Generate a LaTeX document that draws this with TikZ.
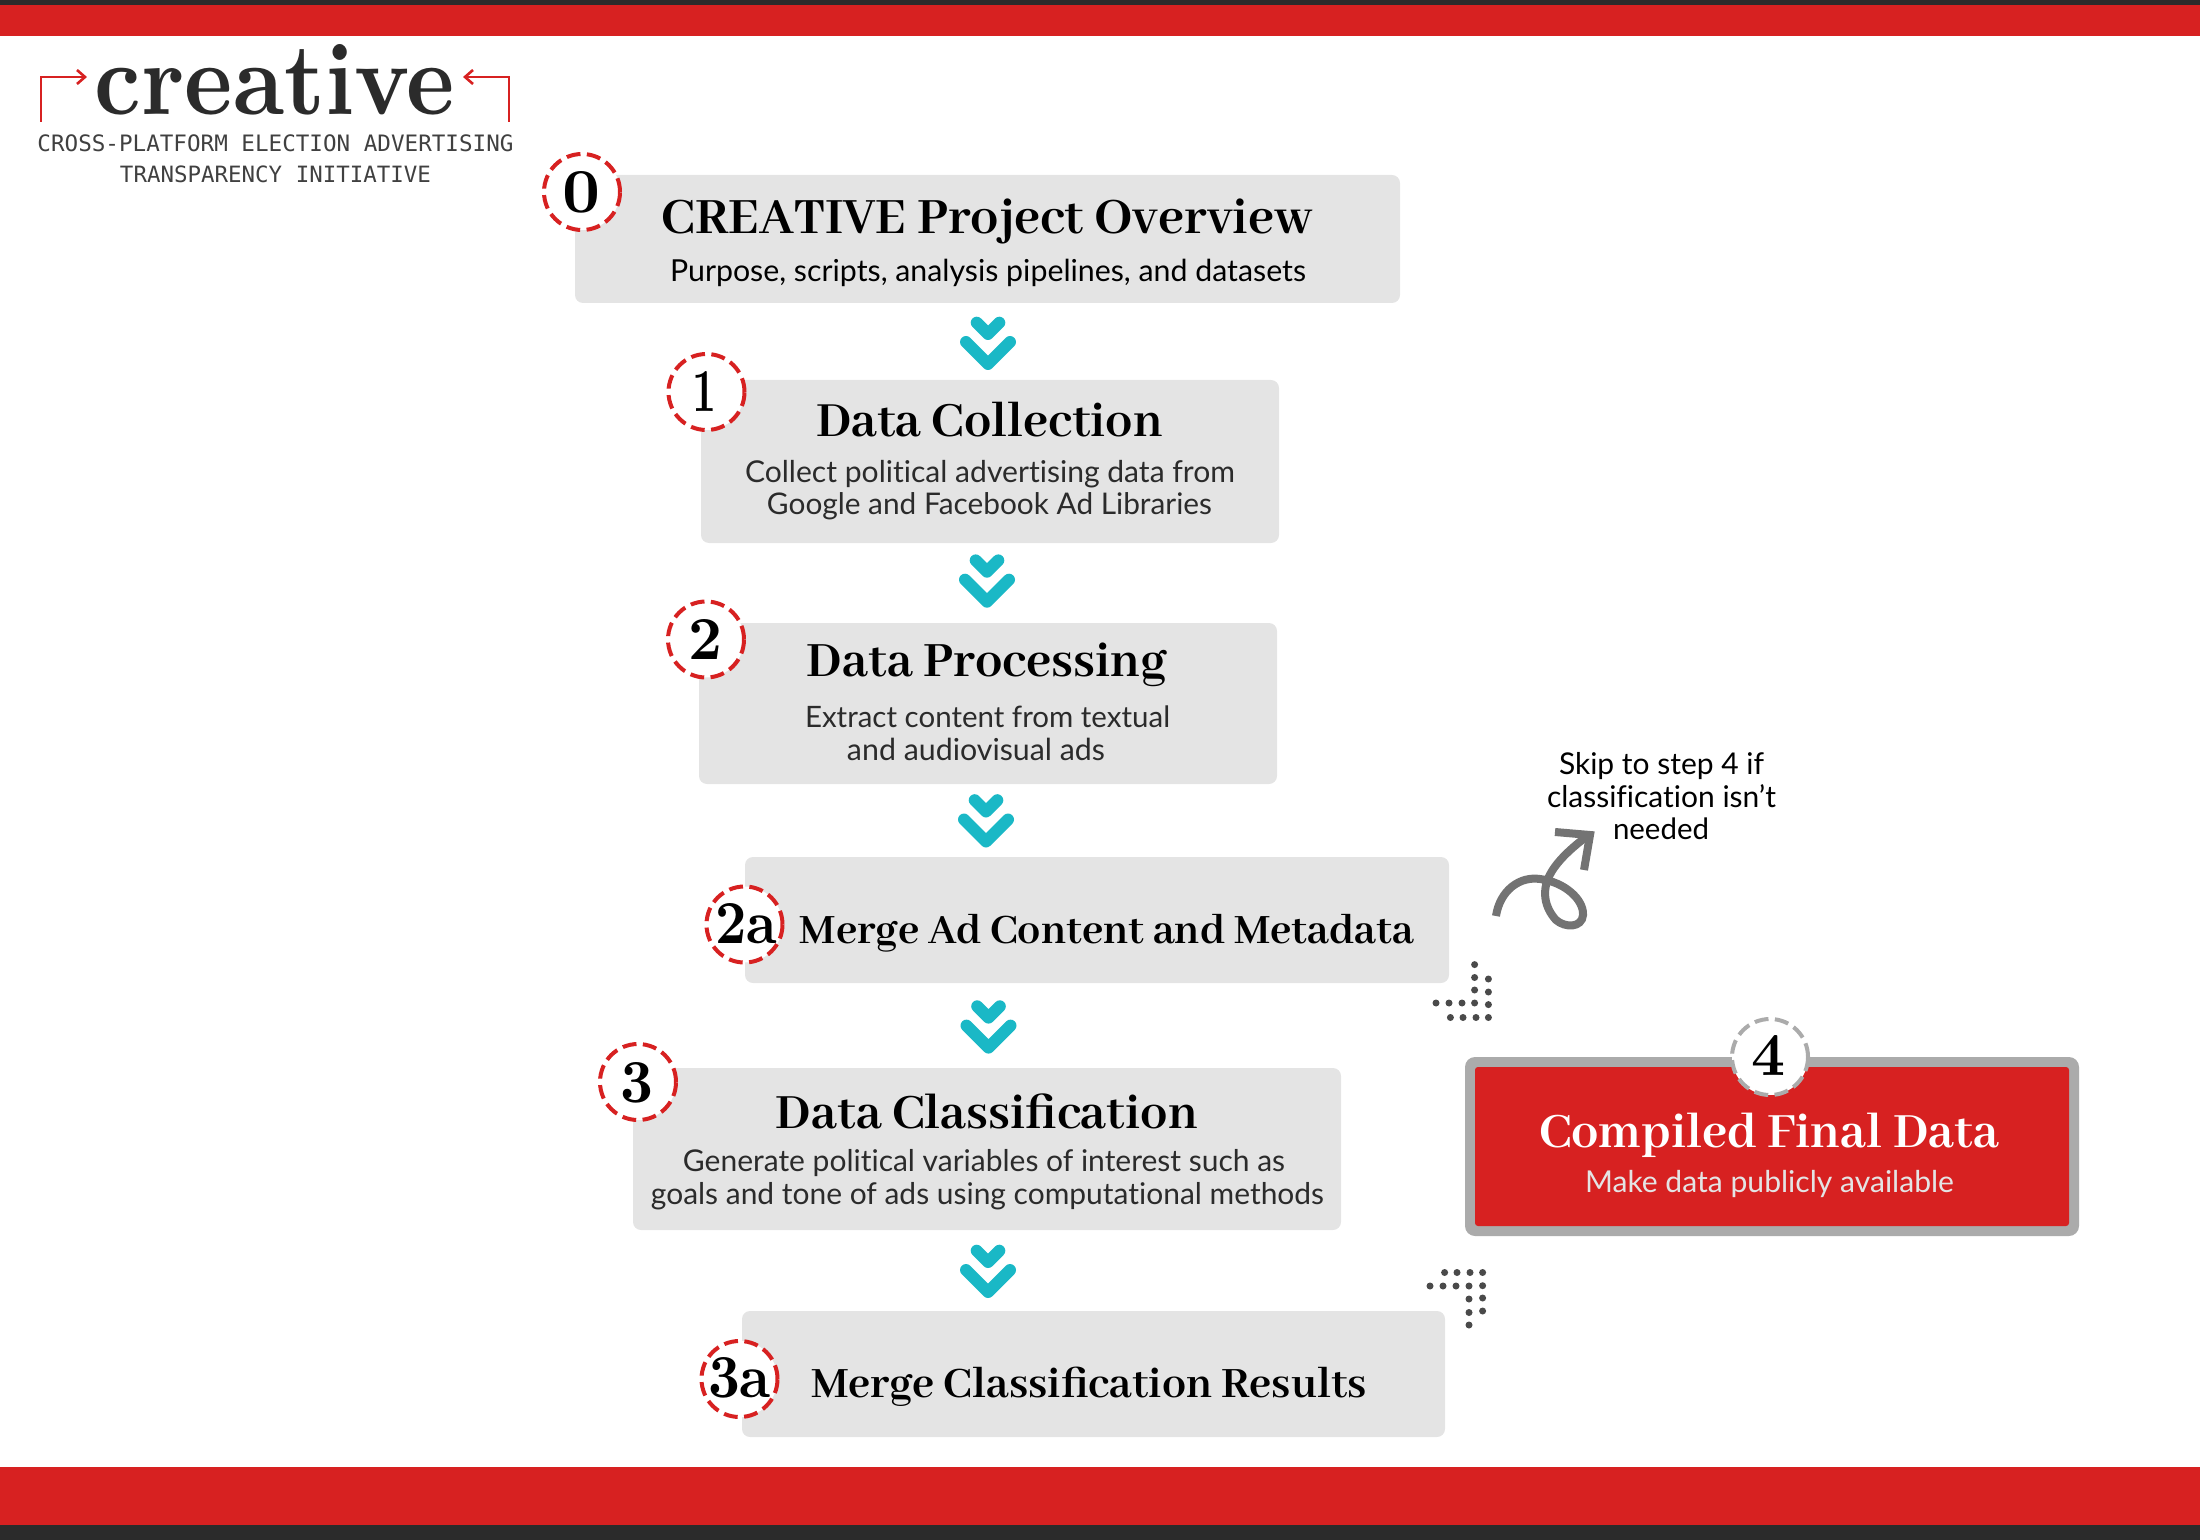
\documentclass[tikz,border=0pt]{standalone}
\usepackage{fontspec}
\usepackage{graphicx}
\usetikzlibrary{calc}
\setmainfont{Lato}[Ligatures=NoCommon]
\newfontfamily\hd{Abhaya Libre}[UprightFont=* Bold,BoldFont=* ExtraBold]
\newfontfamily\logofont{Latin Modern Roman}
\newfontfamily\mono{DejaVu Sans Mono}
\definecolor{crred}{HTML}{D72121}
\definecolor{crdark}{HTML}{2B2B2B}
\definecolor{crbox}{HTML}{E4E4E4}
\definecolor{crcyan}{HTML}{1AB8C6}
\definecolor{crgrey}{HTML}{ABABAB}
\definecolor{crsq}{HTML}{737373}
\definecolor{crdot}{HTML}{4A4A4A}
\definecolor{crmono}{HTML}{404040}
\tikzset{
  x=0.5pt,y=-0.5pt,
  boxn/.style={fill=crbox,rounded corners=4pt,inner sep=0pt,draw=none},
  numc/.style={circle,fill=white,draw=crred,line width=2pt,dash pattern=on 7pt off 3.2pt,minimum size=38pt,inner sep=0pt},
  chev/.style={draw=crcyan,line width=6pt,line cap=round,line join=round},
  tn/.style={anchor=base,inner sep=0pt,outer sep=0pt},
  logoarrow/.style={draw=crred,line width=1.3pt},
}
% name, cx, baseline, width px, font, colour, text
\newcommand\tx[7]{\node[tn,text=#6] (#1) at (#2,#3) {\resizebox{\dimexpr #4pt*1/2\relax}{!}{#5#7}};}
% name, cx, baseline, width px, height px, text: step numbers, Latin Modern bold
\newcommand\dn[6]{\node[tn,text=black] (#1) at (#2,#3) {\resizebox{\dimexpr #4pt*1/2\relax}{\dimexpr #5pt*1/2\relax}{\logofont\bfseries #6}};}
% name, cx, tip y
\newcommand\chevron[3]{%
  \coordinate (#1) at (#2,#3);
  \draw[chev] ($(#1)+(-22,-22)$) -- (#1) -- ($(#1)+(22,-22)$);
  \draw[chev] ($(#1)+(-11.3,-41.3)$) -- ($(#1)+(0,-30)$) -- ($(#1)+(11.3,-41.3)$);
}
\newcommand\dotset[1]{\foreach \a/\b in {#1} \fill[crdot] (\a,\b) circle (1.75pt);}
\begin{document}
\begin{tikzpicture}
\useasboundingbox (0,0) rectangle (2200,1540);
% bands
\fill[crred] (0,0) rectangle (2200,36);
\fill[crdark] (0,0) rectangle (2200,5);
\fill[crred] (0,1467) rectangle (2200,1525);
\fill[crdark] (0,1525) rectangle (2200,1540);
% logo
\node[tn,text=crdark] (logo) at (275,115) {\resizebox{180pt}{35pt}{\logofont\bfseries creative}};
\draw[logoarrow] (41,122) -- (41,77) -- (85,77);
\draw[logoarrow] (77,70) -- (85,77) -- (77,84);
\draw[logoarrow] (509,122) -- (509,77) -- (465,77);
\draw[logoarrow] (473,70) -- (465,77) -- (473,84);
\tx{logoa}{275.5}{151.5}{476}{\mono}{crmono}{CROSS-PLATFORM ELECTION ADVERTISING}
\tx{logob}{275.5}{182.5}{311}{\mono}{crmono}{TRANSPARENCY INITIATIVE}
% boxes
\node[boxn,minimum width=412.5pt,minimum height=64pt] (b0) at (987.5,239) {};
\node[boxn,minimum width=289pt,minimum height=81.5pt] (b1) at (990,461.5) {};
\node[boxn,minimum width=289pt,minimum height=80.5pt] (b2) at (988,703.5) {};
\node[boxn,minimum width=352pt,minimum height=63pt] (b2a) at (1097,920) {};
\node[boxn,minimum width=354pt,minimum height=81pt] (b3) at (987,1149) {};
\node[boxn,minimum width=351.5pt,minimum height=63pt] (b3a) at (1093.5,1374) {};
% step 4 box
\node[draw=none,fill=crgrey,rounded corners=5pt,minimum width=307pt,minimum height=89.5pt,inner sep=0pt] (b4o) at (1772,1146.5) {};
\node[draw=none,fill=crred,rounded corners=1.5pt,minimum width=297pt,minimum height=79.5pt,inner sep=0pt] (b4) at (1772,1146.5) {};
% titles and texts
\tx{t0}{987.5}{234}{651}{\hd}{black}{CREATIVE Project Overview}
\tx{s0}{988}{282}{636}{}{black}{Purpose, scripts, analysis pipelines, and datasets}
\tx{t1}{989.5}{437}{347}{\hd}{black}{Data Collection}
\tx{s1a}{990}{482}{490}{}{crdark}{Collect political advertising data from}
\tx{s1b}{989.5}{514}{445}{}{crdark}{Google and Facebook Ad Libraries}
\tx{t2}{987}{676}{360}{\hd}{black}{Data Processing}
\tx{s2a}{987.5}{727}{365}{}{crdark}{Extract content from textual}
\tx{s2b}{976}{760}{258}{}{crdark}{and audiovisual ads}
\tx{t2a}{1107}{943}{614}{\hd}{black}{Merge Ad Content and Metadata}
\tx{t3}{987}{1128}{422}{\hd}{black}{Data Classification}
\tx{s3a}{984}{1171}{602}{}{crdark}{Generate political variables of interest such as}
\tx{s3b}{987.5}{1204}{673}{}{crdark}{goals and tone of ads using computational methods}
\tx{t3a}{1089}{1397}{556}{\hd}{black}{Merge Classification Results}
\tx{t4}{1769}{1147}{460}{\hd}{white}{Compiled Final Data}
\tx{s4}{1769.5}{1192}{369}{}{crbox}{Make data publicly available}
\tx{n1}{1661.5}{774}{205}{}{black}{Skip to step 4 if}
\tx{n2}{1661.5}{807}{229}{}{black}{classification isn’t}
\tx{n3}{1661}{839}{96}{}{black}{needed}
% circles
\node[numc] (c0) at (582,192) {};
\node[numc] (c1) at (706.5,392) {};
\node[numc] (c2) at (706,639.5) {};
\node[numc] (c2a) at (744.5,924.5) {};
\node[numc] (c3) at (638,1082) {};
\node[numc] (c3a) at (739.5,1379) {};
\node[numc,draw=crgrey] (c4) at (1770,1057) {};
\dn{d0}{581}{213}{38}{41}{0}
\dn{d1}{704.5}{412}{24}{40}{1}
\dn{d2}{705}{659.5}{34}{40}{2}
\dn{d2a}{746}{943}{62}{40}{2a}
\dn{d3}{637}{1102}{33}{40}{3}
\dn{d3a}{739.5}{1397}{63}{40}{3a}
\dn{d4}{1768}{1075}{34}{40}{4}
% chevrons
\chevron{v0}{988}{364}
\chevron{v1}{987}{601.7}
\chevron{v2}{986}{841.5}
\chevron{v3}{988.5}{1047.6}
\chevron{v4}{988}{1292}
% squiggle
\draw[crsq,line width=4pt,line join=miter] (1496,916) .. controls (1500,890) and (1520,876) .. (1540,879)
  .. controls (1565,882) and (1584,900) .. (1583,915)
  .. controls (1582,928) and (1565,928) .. (1556,920)
  .. controls (1545,908) and (1540,890) .. (1552,871)
  .. controls (1560,858) and (1575,845) .. (1590,834);
\draw[crsq,line width=4pt,line join=miter] (1555,832) -- (1590,835) -- (1584,870);
% dots
\dotset{1474.6/964.6,1474.6/977.5,1488.4/979,1474.6/990,1488.4/992,1436/1003,1449/1003,1462/1003,1474.6/1003,1488.4/1004.6,1450.4/1017.5,1463/1017.5,1476/1017.5,1488.4/1017.5}
\dotset{1444.6/1272.5,1457/1272.5,1470/1272.5,1482.6/1272.5,1430/1286,1443/1286,1456/1286,1469/1286,1482.6/1285.7,1469/1299,1482.6/1298,1469/1312.5,1482.6/1311,1469/1325}
\end{tikzpicture}
\end{document}
